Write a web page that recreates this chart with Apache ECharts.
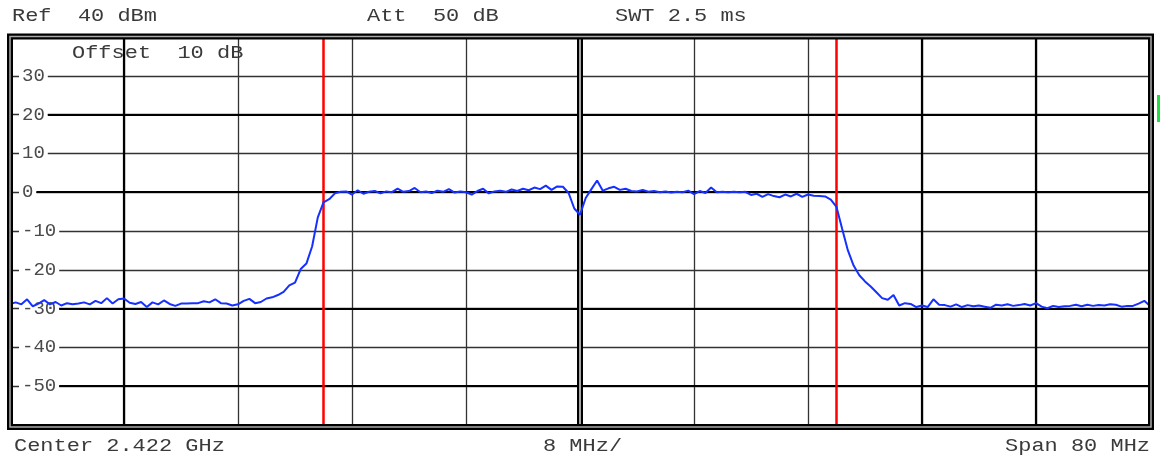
<!DOCTYPE html>
<html>
<head>
<meta charset="utf-8">
<script src="https://cdn.jsdelivr.net/npm/echarts@6/dist/echarts.min.js"></script>
<style>
html,body{margin:0;padding:0;background:#fff;}
#chart{width:1160px;height:458px;}
</style>
</head>
<body>
<div id="chart"></div>
<script>
// ---- data ----
const centerLabel = 'Center 2.422 GHz';
const divLabel = '8 MHz/';
const spanLabel = 'Span 80 MHz';
const headerLabels = ['Ref  40 dBm', 'Att  50 dB', 'SWT 2.5 ms'];
const offsetLabel = 'Offset  10 dB';
const freqMinMHz = -40, freqMaxMHz = 40, freqDivMHz = 8;
const levelMinDb = -60, levelMaxDb = 40, levelDivDb = 10;
const hiddenLevelTicks = [40, -60];
const boldGridFreqsMHz = [-32, 24, 32];
const boldGridLevelsDb = [20, 0, -30, -50];
const freqStepMHz = 0.4;
const markerFreqsMHz = [-18, 18];
const traceDb = [
  -28.8,-28.4,-28.9,-27.6,-29.4,-28.7,-27.8,-28.9,-28.3,-29.2,
  -28.6,-28.9,-28.7,-28.4,-28.9,-28.0,-28.6,-27.3,-28.7,-27.6,
  -27.4,-28.5,-28.8,-28.3,-29.6,-28.4,-28.9,-27.9,-28.8,-29.3,
  -28.7,-28.7,-28.6,-28.6,-28.1,-28.4,-27.6,-28.6,-28.7,-29.2,
  -28.9,
  -28.0,-27.5,-28.6,-28.3,-27.4,-27.1,-26.5,-25.7,-24.0,-23.3,
  -19.8,-18.4,-14.0,-6.5,-2.6,-1.8,-0.3,0.1,
  0.2,-0.6,0.5,-0.4,0.1,0.3,-0.3,0.2,0,0.9,
  0.1,0.3,1.1,0,0.2,-0.2,0.4,0.1,0.8,-0.1,
  0.2,0,-0.6,0.3,0.9,-0.3,0.2,0.4,0.1,0.7,
  0.3,0.9,0.5,1.2,0.8,1.7,0.6,1.5,1.4,-0.2,
  -4.2,-5.8,-1.5,0.8,3.0,0.4,1.0,1.4,0.6,0.9,
  0.3,0.2,0.6,0.1,0.3,0,0.2,-0.1,0.1,0,
  0.4,-0.5,0.3,-0.2,1.2,0,0.1,0,0.1,0,
  0.1,-0.7,-0.4,-1.2,-0.5,-1.0,-1.3,-0.6,-1.1,-0.4,
  -1.2,-0.6,-0.9,-1.0,-1.1,-1.9,-3.8,
  -9.5,-15,-18.9,-21.4,-23.0,-24.3,-25.8,-27.3,-27.7,-26.5,
  -29.2,-28.6,-28.8,-29.6,-29.2,-29.6,-27.6,-29.0,-29.1,-29.5,
  -28.9,-29.6,-29.1,-29.4,-29.2,-29.5,-29.8,-29.0,-29.2,-28.9,
  -29.3,-29.1,-28.8,-29.2,-28.6,-29.5,-29.9,-29.3,-29.6,-29.4,
  -29.3,-29.0,-29.4,-29.0,-29.3,-29.1,-29.2,-28.9,-29.0,-29.5,
  -29.3,-29.3,-28.7,-28.0,-29.3
];

// ---- chart ----
const chart = echarts.init(document.getElementById('chart'), null, {renderer: 'canvas'});
const traceData = traceDb.map((v, i) => [freqMinMHz + i * freqStepMHz, v]);
const FONT = 'Liberation Mono';
const TXT = '#3a3a3a';
const GRID_LEFT = 10, GRID_RIGHT = 10;
const LABEL_MARGIN = 9, LABEL_PAD = 3, LABEL_CHAR_W = 11.4;
function txt(x, y, s, align) {
  return {
    type: 'text', x: x, y: y, scaleX: 1.22, z: 100,
    style: {text: s, font: '18px "' + FONT + '"', fill: TXT, textAlign: align || 'left', textVerticalAlign: 'middle'}
  };
}
const boldStyle = {color: '#000', width: 2.2, type: 'solid'};
function labelEnd(l) { return GRID_LEFT + LABEL_MARGIN + 2 * LABEL_PAD + String(l).length * LABEL_CHAR_W; }
const option = {
  animation: false,
  backgroundColor: '#fff',
  grid: {left: GRID_LEFT, right: GRID_RIGHT, top: 37, bottom: 33, show: false},
  xAxis: {
    type: 'value', min: freqMinMHz, max: freqMaxMHz, interval: freqDivMHz,
    axisLine: {show: false}, axisTick: {show: false}, axisLabel: {show: false},
    splitLine: {show: true, lineStyle: {color: '#333', width: 1.3}}
  },
  yAxis: {
    type: 'value', min: levelMinDb, max: levelMaxDb, interval: levelDivDb,
    axisLine: {show: false}, axisTick: {show: false},
    axisLabel: {
      inside: true, margin: LABEL_MARGIN, color: '#4a4a4a', fontFamily: FONT, fontSize: 19,
      backgroundColor: '#fff', padding: [0, LABEL_PAD, 0, LABEL_PAD],
      formatter: v => hiddenLevelTicks.includes(v) ? '' : String(v)
    },
    splitLine: {show: true, lineStyle: {color: '#333', width: 1.3}}
  },
  series: [{
    type: 'line', data: traceData, showSymbol: false, symbol: 'none',
    lineStyle: {color: '#1530ff', width: 2}, z: 5,
    markLine: {
      silent: true, symbol: ['none', 'none'], label: {show: false},
      data: []
        .concat(boldGridFreqsMHz.map(f => ({xAxis: f, lineStyle: boldStyle})))
        .concat(boldGridLevelsDb.map(l => [{x: labelEnd(l), yAxis: l, lineStyle: boldStyle}, {xAxis: freqMaxMHz, yAxis: l}]))
        .concat([
          {xAxis: 0, lineStyle: {color: '#000', width: 6, type: 'solid'}},
          {xAxis: 0, lineStyle: {color: '#ddd', width: 1.5, type: 'solid'}}
        ])
        .concat(markerFreqsMHz.map(f => ({xAxis: f, lineStyle: {color: '#ff0000', width: 2.5, type: 'solid'}})))
    }
  }],
  graphic: [
    {type: 'rect', z: 90, shape: {x: 10, y: 36.5, width: 1141, height: 390.5}, style: {fill: 'none', stroke: '#000', lineWidth: 6}},
    {type: 'rect', z: 91, shape: {x: 10, y: 36.5, width: 1141, height: 390.5}, style: {fill: 'none', stroke: '#aaa', lineWidth: 1.5}},
    {type: 'rect', z: 91, shape: {x: 1157, y: 95, width: 3, height: 27}, style: {fill: '#22dd44'}},
    txt(12, 16, headerLabels[0]),
    txt(367, 16, headerLabels[1]),
    txt(615, 16, headerLabels[2]),
    txt(72, 53, offsetLabel),
    txt(14, 446, centerLabel),
    txt(543, 446, divLabel),
    txt(1150, 446, spanLabel, 'right')
  ]
};
chart.setOption(option);
</script>
</body>
</html>
